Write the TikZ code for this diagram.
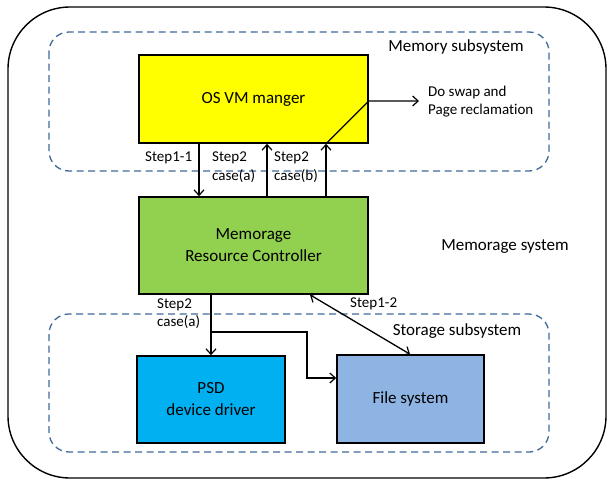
\documentclass[tikz,border=0pt]{standalone}
\usepackage{fontspec}
\setmainfont{Carlito}[Ligatures={NoCommon}]
\usetikzlibrary{arrows.meta}
\definecolor{dashblue}{HTML}{41699A}
\definecolor{vmyellow}{HTML}{FFFF00}
\definecolor{ctrlgreen}{HTML}{92D050}
\definecolor{psdcyan}{HTML}{00B0F0}
\definecolor{fsblue}{HTML}{8EB4E3}
\begin{document}
\begin{tikzpicture}[x=1pt,y=-1pt,
  box/.style={draw=black, line width=1.6pt, inner sep=0pt, align=center,
    font=\fontsize{17}{22}\selectfont},
  grp/.style={draw=dashblue, dash pattern=on 7pt off 4.5pt, line width=1.3pt,
    rounded corners=20pt},
  lbl/.style={font=\fontsize{15}{18.5}\selectfont, align=left, inner sep=0pt},
  big/.style={font=\fontsize{17}{22}\selectfont, inner sep=0pt},
  tip/.tip={Straight Barb[length=5.5pt,width=10pt,line width=1.2pt]},
  conn/.style={line width=1.3pt, -tip},
  plain/.style={line width=1.3pt}]
\useasboundingbox (0,0) rectangle (608,479);

% whole Memorage system and its two subsystems
\draw[line width=1.4pt, rounded corners=62pt] (8,7) rectangle (606,478);
\draw[grp] (49,32) rectangle (549,171);
\draw[grp] (49,314) rectangle (549,452);

% components
\node[box, fill=vmyellow, minimum width=229pt, minimum height=88pt]
  (vm) at (253.5,99) {OS VM manger};
\node[box, fill=ctrlgreen, minimum width=229pt, minimum height=97pt]
  (mrc) at (253.5,245.5) {Memorage\\Resource Controller};
\node[box, fill=psdcyan, minimum width=148pt, minimum height=87pt]
  (psd) at (211,399.5) {PSD\\device driver};
\node[box, fill=fsblue, minimum width=147pt, minimum height=88pt]
  (fs) at (410.5,399) {File system};

% region titles
\node[big] (memsub) at (456,47) {Memory subsystem};
\node[big] (memsys) at (505,247) {Memorage system};
\node[big] (stosub) at (457,331) {Storage subsystem};

% step labels
\node[lbl, anchor=west] (l11) at (145,158) {Step1-1};
\node[lbl, anchor=west] (l2a) at (212,167) {Step2\\case(a)};
\node[lbl, anchor=west] (l2b) at (274,167) {Step2\\case(b)};
\node[lbl, anchor=west] (l12) at (350,304) {Step1-2};
\node[lbl, anchor=west] (l2c) at (157,313.5) {Step2\\case(a)};
\node[lbl, anchor=west] (swap) at (428,101.5) {Do swap and\\Page reclamation};

% connector positions
\coordinate (xa) at (199,0);
\coordinate (xb) at (267,0);
\coordinate (xc) at (326,0);
\coordinate (xd) at (310,0);
\coordinate (xe) at (410,0);
\coordinate (xf) at (211,0);
\coordinate (out) at (0,101);
\coordinate (br) at (211,332);
\coordinate (bend) at (307,378);

% memory side
\draw[conn] (vm.south -| xa) -- (mrc.north -| xa);
\draw[conn] (mrc.north -| xb) -- (vm.south -| xb);
\draw[conn] (mrc.north -| xc) -- (vm.south -| xc);
\draw[conn] (vm.south -| xc) -- (vm.east |- out) -- ([xshift=-9pt]swap.west |- out);

% storage side
\draw[plain, tip-tip] (mrc.south -| xd) -- (fs.north -| xe);
\draw[conn] (mrc.south -| xf) -- (psd.north -| xf);
\draw[conn] (br) -| (bend) -- (fs.west |- bend);
\end{tikzpicture}
\end{document}
